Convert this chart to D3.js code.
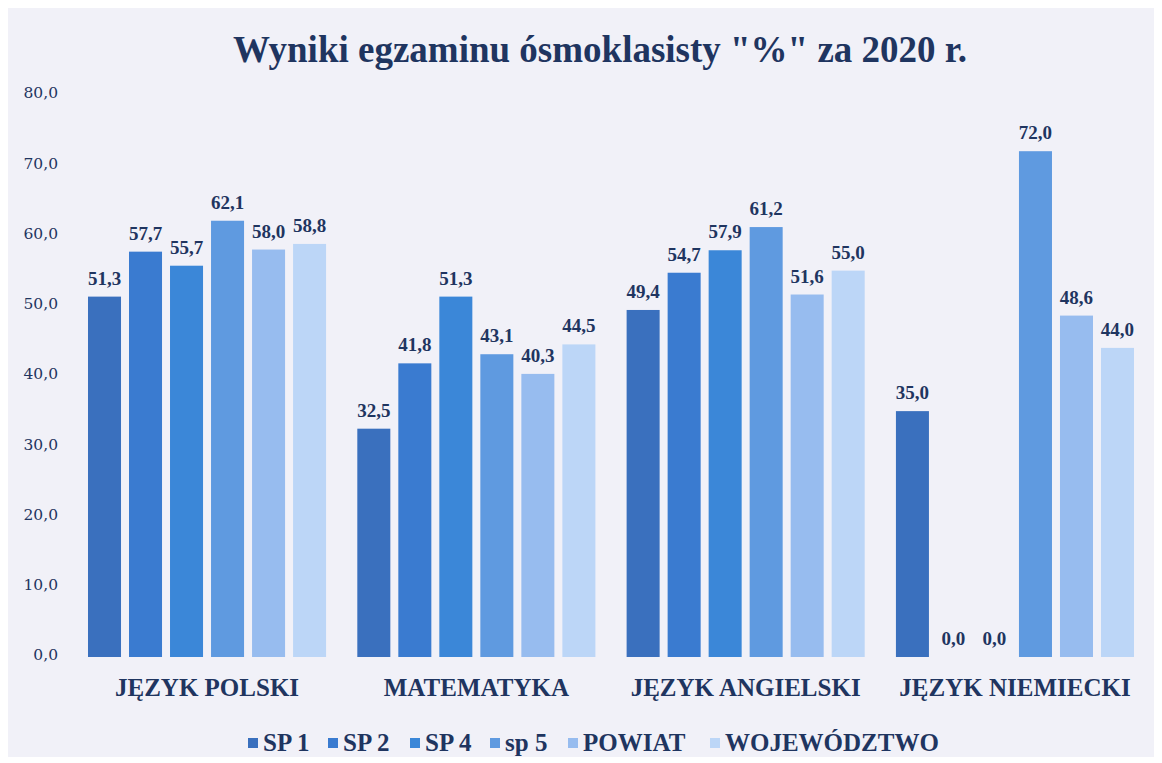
<!DOCTYPE html>
<html><head><meta charset="utf-8">
<script src="https://cdn.jsdelivr.net/npm/d3@7"></script>
<style>
html,body{margin:0;padding:0;background:#fff;}
svg{display:block;}
</style></head>
<body>
<svg id="chart" width="1162" height="763"></svg>
<script>
const categories = ["JĘZYK POLSKI", "MATEMATYKA", "JĘZYK ANGIELSKI", "JĘZYK NIEMIECKI"];
const seriesNames = ["SP 1", "SP 2", "SP 4", "sp 5", "POWIAT", "WOJEWÓDZTWO"];
const sp1 = [51.3, 32.5, 49.4, 35.0];
const sp2 = [57.7, 41.8, 54.7, 0.0];
const sp4 = [55.7, 51.3, 57.9, 0.0];
const sp5 = [62.1, 43.1, 61.2, 72.0];
const powiat = [58.0, 40.3, 51.6, 48.6];
const wojewodztwo = [58.8, 44.5, 55.0, 44.0];
const yTicks = [0, 10, 20, 30, 40, 50, 60, 70, 80];
const colors = ["#3a70be", "#3a7bd0", "#3b87d8", "#5f9ae0", "#97bcef", "#bcd6f7"];

const seriesValues = [sp1, sp2, sp4, sp5, powiat, wojewodztwo];
const svg = d3.select("#chart");
const W = 1162, H = 763;
const navy = "#1f3560";
const serif = "'Liberation Serif','Times New Roman',serif";

svg.append("rect").attr("x", 8).attr("y", 8).attr("width", W - 16).attr("height", H - 14)
  .attr("fill", "#f1f1f8");

const m = {left: 72, right: 1150, top: 95, bottom: 657};
const x0 = d3.scaleBand().domain(categories).range([m.left, m.right]).paddingInner(0.116).paddingOuter(0.0594);
const x1 = d3.scaleBand().domain(seriesNames).range([0, x0.bandwidth()]).paddingInner(0.195).paddingOuter(0.0);
const y = d3.scaleLinear().domain([0, 80]).range([m.bottom, m.top]);

// title
svg.append("text").attr("x", 600).attr("y", 62).attr("text-anchor", "middle")
  .attr("font-family", serif).attr("font-weight", "bold").attr("font-size", 37)
  .attr("fill", navy).text('Wyniki egzaminu ósmoklasisty "%" za 2020 r.');

// y axis
const yAxis = d3.axisLeft(y).tickValues(yTicks).tickSize(0).tickPadding(0)
  .tickFormat(d => d3.format(".1f")(d).replace(".", ","));
const gy = svg.append("g").attr("transform", `translate(58,-2)`).call(yAxis);
gy.select(".domain").remove();
gy.selectAll("text").attr("font-family", "'DejaVu Serif',Georgia,serif").attr("font-size", 15.5)
  .attr("fill", navy);

// bars
const groups = svg.append("g").selectAll("g").data(categories).join("g")
  .attr("transform", d => `translate(${x0(d)},0)`);
groups.each(function(cat, ci) {
  const g = d3.select(this);
  seriesNames.forEach((s, si) => {
    const v = seriesValues[si][ci];
    const bx = x1(s);
    g.append("rect").attr("x", bx).attr("y", y(v)).attr("width", x1.bandwidth())
      .attr("height", y(0) - y(v)).attr("fill", colors[si]);
    g.append("text").attr("x", bx + x1.bandwidth() / 2).attr("y", y(v) - 12)
      .attr("text-anchor", "middle").attr("font-family", serif).attr("font-weight", "bold")
      .attr("font-size", 19).attr("fill", navy).text(d3.format(".1f")(v).replace(".", ","));
  });
});

// x axis labels
const xAxis = d3.axisBottom(x0).tickSize(0).tickPadding(0);
const gx = svg.append("g").attr("transform", `translate(0,696)`).call(xAxis);
gx.select(".domain").remove();
gx.selectAll("text").attr("font-family", serif).attr("font-weight", "bold").attr("font-size", 25)
  .attr("fill", navy).attr("dy", 0);

// legend
const legend = svg.append("g").attr("transform", "translate(0,743)");
const legendX = [248, 328, 410, 490, 568, 710];
seriesNames.forEach((s, i) => {
  legend.append("rect").attr("x", legendX[i]).attr("y", -5).attr("width", 10).attr("height", 10)
    .attr("fill", colors[i]);
  legend.append("text").attr("x", legendX[i] + 15).attr("y", 8)
    .attr("font-family", serif).attr("font-weight", "bold").attr("font-size", 25)
    .attr("fill", navy).text(s);
});
</script>
</body></html>
